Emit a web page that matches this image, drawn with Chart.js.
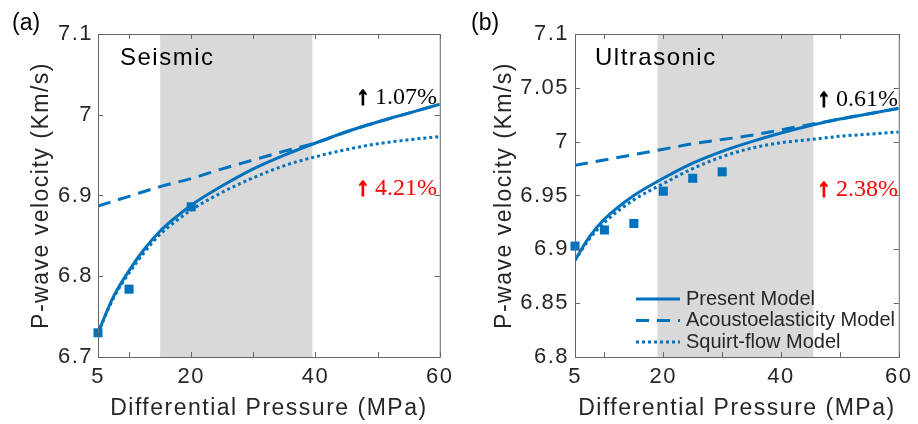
<!DOCTYPE html>
<html>
<head>
<meta charset="utf-8">
<script src="https://cdn.jsdelivr.net/npm/chart.js@4.4.1/dist/chart.umd.min.js"></script>
<style>
    body { margin: 0; background: #fff; }
    #wrap { position: relative; width: 918px; height: 424px; }
    canvas { position: absolute; top: 0; }
</style>
</head>
<body>
<div id="wrap">
    <canvas id="seismic" width="459" height="424" style="left:0"></canvas>
    <canvas id="ultrasonic" width="459" height="424" style="left:459px"></canvas>
</div>
<script>
// shared pressure axis (MPa)
const pressureTicks = [5, 10, 20, 30, 40, 50, 60];
const pressureLabels = [5, 20, 40, 60];
const coarseP = [5, 10, 15, 20, 25, 30, 35, 40, 45, 50, 55, 60];

// (a) seismic band
const velTicksA = [6.7, 6.8, 6.9, 7, 7.1];
const labPA = [5, 10, 20];
const labVA = [6.730, 6.784, 6.886];
const finePA = [5, 7.5, 10, 12.5, 15, 17.5, 20, 25, 30, 35, 40, 45, 50, 55, 60];
const presentA = [6.730, 6.775, 6.807, 6.834, 6.856, 6.873, 6.888, 6.912, 6.933, 6.950, 6.965, 6.979, 6.991, 7.002, 7.013];
const squirtA = [6.730, 6.773, 6.804, 6.830, 6.852, 6.868, 6.882, 6.904, 6.922, 6.937, 6.948, 6.957, 6.964, 6.969, 6.973];
const acoustoA = [6.887, 6.899, 6.911, 6.921, 6.933, 6.944, 6.955, 6.965, 6.979, 6.991, 7.002, 7.013];
const bandA = [15, 39.5];

// (b) ultrasonic band
const velTicksB = [6.8, 6.85, 6.9, 6.95, 7, 7.05, 7.1];
const labPB = [5, 10, 15, 20, 25, 30];
const labVB = [6.903, 6.918, 6.924, 6.954, 6.966, 6.972];
const finePB = [5, 7.5, 10, 15, 20, 25, 30, 35, 40, 45, 50, 55, 60];
const presentB = [6.890, 6.912, 6.928, 6.950, 6.966, 6.980, 6.991, 7.000, 7.008, 7.015, 7.021, 7.026, 7.031];
const squirtB = [6.890, 6.910, 6.925, 6.946, 6.961, 6.975, 6.986, 6.994, 6.999, 7.002, 7.005, 7.007, 7.009];
const acoustoB = [6.978, 6.983, 6.988, 6.993, 6.998, 7.002, 7.006, 7.011, 7.016, 7.021, 7.026, 7.031];
const bandB = [19, 45.5];

const blue = '#0072BD';
const sans = "'Liberation Sans', Arial, sans-serif";
const serif = "'Liberation Serif', 'Times New Roman', serif";

function pts(xs, ys) {
    return xs.map((x, i) => ({x: x, y: ys[i]}));
}

// gray band, boxed axes with inward ticks, labels and legend
const frame = {
    id: 'frame',
    beforeDraw(chart) {
        chart.ctx.letterSpacing = '1.5px';
    },
    beforeDatasetsDraw(chart, args, opts) {
        const {ctx, chartArea: a, scales: {x}} = chart;
        ctx.letterSpacing = '0px';
        const x0 = x.getPixelForValue(opts.band[0]);
        const x1 = x.getPixelForValue(opts.band[1]);
        ctx.fillStyle = '#d9d9d9';
        ctx.fillRect(x0, a.top, x1 - x0, a.bottom - a.top);
    },
    afterDatasetsDraw(chart, args, opts) {
        const {ctx, chartArea: a, scales: {x, y}} = chart;
        ctx.save();
        ctx.strokeStyle = '#666';
        ctx.lineWidth = 1;
        ctx.strokeRect(a.left + 0.5, a.top + 0.5, a.right - a.left, a.bottom - a.top);
        ctx.beginPath();
        x.ticks.forEach(t => {
            const px = Math.round(x.getPixelForValue(t.value)) + 0.5;
            ctx.moveTo(px, a.bottom); ctx.lineTo(px, a.bottom - 5);
            ctx.moveTo(px, a.top); ctx.lineTo(px, a.top + 5);
        });
        y.ticks.forEach(t => {
            const py = Math.round(y.getPixelForValue(t.value)) + 0.5;
            ctx.moveTo(a.left, py); ctx.lineTo(a.left + 5, py);
            ctx.moveTo(a.right, py); ctx.lineTo(a.right - 5, py);
        });
        ctx.stroke();

        ctx.fillStyle = '#000';
        ctx.textBaseline = 'middle';
        ctx.font = '23px ' + sans;
        ctx.fillText(opts.tag, opts.tagX, 24);

        ctx.textBaseline = 'alphabetic';
        ctx.letterSpacing = '1.5px';
        ctx.font = '24px ' + sans;
        ctx.fillText(opts.name, opts.nameX, 65);
        ctx.letterSpacing = '0px';

        // percentage notes with a heavy up arrow
        ctx.textAlign = 'right';
        opts.notes.forEach(n => {
            ctx.fillStyle = n.color;
            ctx.strokeStyle = n.color;
            ctx.font = '24px ' + serif;
            ctx.fillText(n.text, opts.noteX, n.y);
            const w = ctx.measureText(n.text).width;
            ctx.font = 'bold 25px ' + serif;
            ctx.lineWidth = 1.6;
            ctx.fillText('\u2191', opts.noteX - w - 6, n.y);
            ctx.strokeText('\u2191', opts.noteX - w - 6, n.y);
        });

        if (opts.legend) {
            ctx.textAlign = 'left';
            ctx.textBaseline = 'middle';
            ctx.font = '20px ' + sans;
            chart.data.datasets.filter(d => d.showLine !== false).forEach((d, i) => {
                const ly = opts.legend.y + i * 21.5;
                ctx.strokeStyle = d.borderColor;
                ctx.lineWidth = 3;
                ctx.setLineDash(d.borderDash || []);
                ctx.beginPath();
                ctx.moveTo(opts.legend.x, ly);
                ctx.lineTo(opts.legend.x + 44, ly);
                ctx.stroke();
                ctx.setLineDash([]);
                ctx.fillStyle = '#262626';
                ctx.fillText(d.label, opts.legend.x + 50, ly);
            });
        }
        ctx.restore();
    }
};

function panel(id, p) {
    return new Chart(document.getElementById(id), {
        type: 'line',
        data: {
            datasets: [
                {
                    label: 'Present Model',
                    data: pts(p.fineP, p.present),
                    borderColor: blue, borderWidth: 3, pointRadius: 0,
                    cubicInterpolationMode: 'monotone', order: 1
                },
                {
                    label: 'Acoustoelasticity Model',
                    data: pts(coarseP, p.acousto),
                    borderColor: blue, borderWidth: 3, pointRadius: 0,
                    borderDash: [13, 8],
                    cubicInterpolationMode: 'monotone', order: 3
                },
                {
                    label: 'Squirt-flow Model',
                    data: pts(p.fineP, p.squirt),
                    borderColor: blue, borderWidth: 3, pointRadius: 0,
                    borderDash: [3, 3],
                    cubicInterpolationMode: 'monotone', order: 2
                },
                {
                    label: 'Lab data',
                    data: pts(p.labP, p.labV),
                    showLine: false,
                    pointStyle: 'rect', pointRadius: 6.4,
                    pointBackgroundColor: blue, pointBorderWidth: 0,
                    clip: false, order: 0
                }
            ]
        },
        options: {
            responsive: false,
            animation: false,
            events: [],
            layout: {
                padding: { left: 0, right: p.padRight, top: 34, bottom: 0 }
            },
            plugins: {
                legend: { display: false },
                tooltip: { enabled: false },
                frame: p.frame
            },
            scales: {
                x: {
                    type: 'linear', min: 5, max: 60,
                    afterBuildTicks: s => { s.ticks = pressureTicks.map(v => ({value: v})); },
                    afterFit: s => { s.height = 67; },
                    grid: { display: false, drawTicks: false },
                    border: { display: false },
                    ticks: {
                        autoSkip: false, maxRotation: 0, padding: 7,
                        color: '#262626', font: { family: sans, size: 22 },
                        callback: v => pressureLabels.includes(v) ? String(v) : ''
                    },
                    title: {
                        display: true, text: 'Differential Pressure (MPa)',
                        color: '#262626', font: { family: sans, size: 23 },
                        padding: { top: 0, bottom: 2 }
                    }
                },
                y: {
                    type: 'linear', min: p.velTicks[0], max: p.velTicks[p.velTicks.length - 1],
                    afterBuildTicks: s => { s.ticks = p.velTicks.map(v => ({value: v})); },
                    afterFit: s => { s.width = p.left; },
                    grid: { display: false, drawTicks: false },
                    border: { display: false },
                    ticks: {
                        padding: p.tickPad,
                        color: '#262626', font: { family: sans, size: 22 },
                        callback: v => String(v)
                    },
                    title: {
                        display: true, text: 'P-wave velocity (Km/s)',
                        color: '#262626', font: { family: sans, size: 23 },
                        padding: { top: p.titlePad, bottom: 0 }
                    }
                }
            }
        },
        plugins: [frame]
    });
}

panel('seismic', {
    fineP: finePA, present: presentA, squirt: squirtA, acousto: acoustoA,
    labP: labPA, labV: labVA, velTicks: velTicksA,
    left: 98, padRight: 19, tickPad: 5, titlePad: 28,
    frame: {
        band: bandA, tag: '(a)', tagX: 12, name: 'Seismic', nameX: 120, noteX: 437,
        notes: [
            { text: '1.07%', color: '#000', y: 104 },
            { text: '4.21%', color: '#ff0000', y: 195 }
        ]
    }
});

panel('ultrasonic', {
    fineP: finePB, present: presentB, squirt: squirtB, acousto: acoustoB,
    labP: labPB, labV: labVB, velTicks: velTicksB,
    left: 116, padRight: 15, tickPad: 6, titlePad: 32,
    frame: {
        band: bandB, tag: '(b)', tagX: 12, name: 'Ultrasonic', nameX: 136, noteX: 439,
        notes: [
            { text: '0.61%', color: '#000', y: 106 },
            { text: '2.38%', color: '#ff0000', y: 196 }
        ],
        legend: { x: 177, y: 299 }
    }
});
</script>
</body>
</html>
